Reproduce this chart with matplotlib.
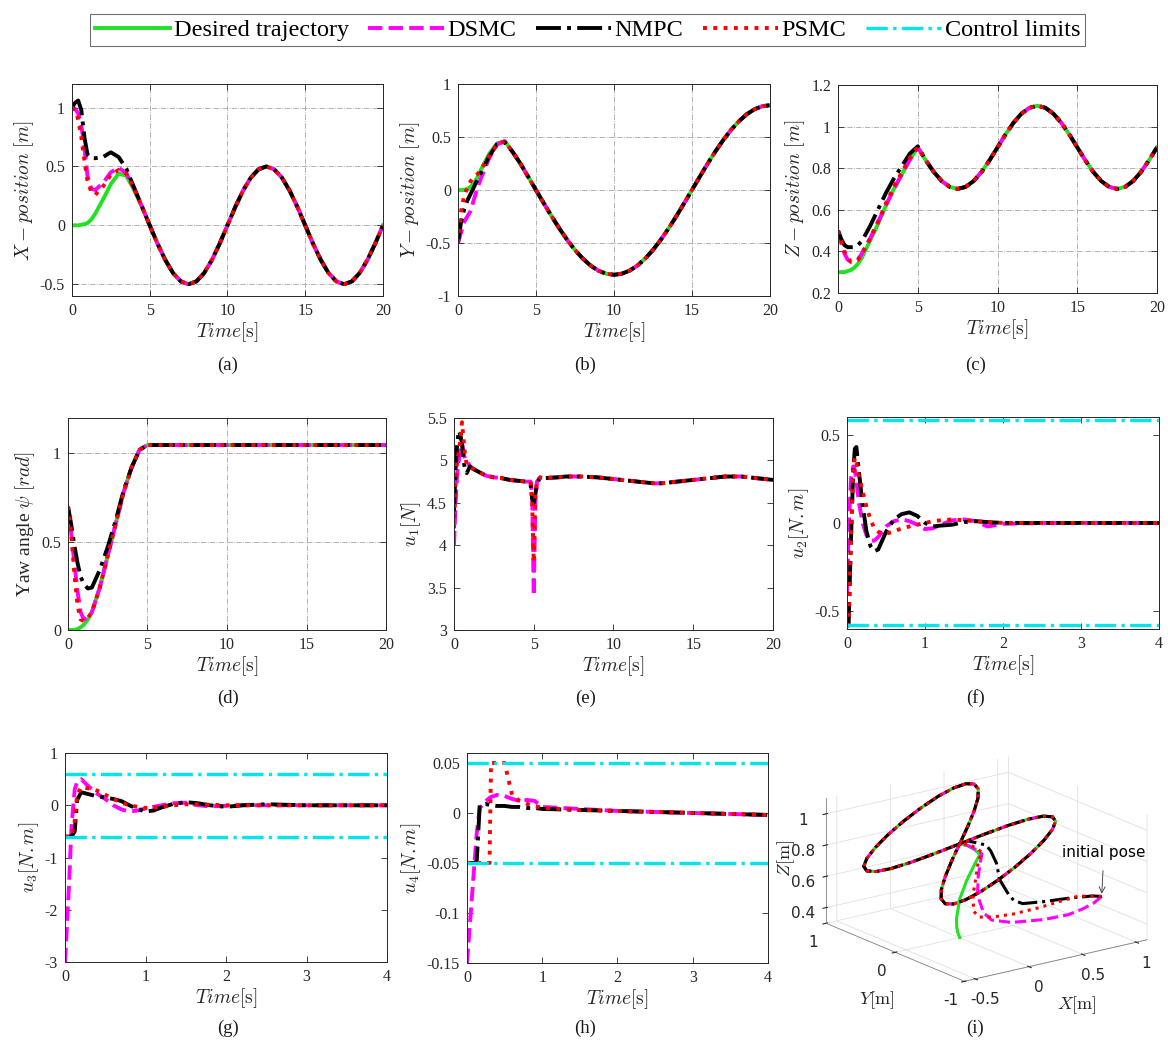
import numpy as np
import matplotlib
matplotlib.use('Agg')
import matplotlib.pyplot as plt
from matplotlib.lines import Line2D
from mpl_toolkits.mplot3d import proj3d

plt.rcParams['font.family'] = ['Liberation Serif', 'DejaVu Serif']
plt.rcParams['mathtext.fontset'] = 'cm'

# ---- position / yaw data (0..20 s) ----
t_pos = [0, 0.2, 0.4, 0.6, 0.8, 1.0, 1.25, 1.5, 2, 2.5, 3, 3.5, 4, 4.5, 5,
         5.5, 6, 6.5, 7, 7.5, 8, 8.5, 9, 9.5, 10, 10.5, 11, 11.5, 12, 12.5,
         13, 13.5, 14, 14.5, 15, 15.5, 16, 16.5, 17, 17.5, 18, 18.5, 19, 19.5, 20]

x_tail = [-0.155, -0.294, -0.405, -0.476, -0.5, -0.476, -0.405, -0.294, -0.155, 0,
          0.155, 0.294, 0.405, 0.476, 0.5, 0.476, 0.405, 0.294, 0.155, 0,
          -0.155, -0.294, -0.405, -0.476, -0.5, -0.476, -0.405, -0.294, -0.155, 0]
x_ref = [0, 0, 0, 0.005, 0.01, 0.02, 0.05, 0.1, 0.22, 0.35, 0.44, 0.42, 0.3, 0.155, 0] + x_tail
x_dsmc = [1.0, 0.99, 0.95, 0.85, 0.66, 0.42, 0.31, 0.30, 0.36, 0.45, 0.49, 0.44, 0.31, 0.16, 0] + x_tail
x_nmpc = [1.0, 1.04, 1.06, 0.98, 0.75, 0.6, 0.57, 0.57, 0.58, 0.62, 0.58, 0.48, 0.32, 0.16, 0] + x_tail
x_psmc = [1.0, 0.98, 0.9, 0.75, 0.55, 0.38, 0.28, 0.26, 0.33, 0.43, 0.47, 0.44, 0.31, 0.16, 0] + x_tail

y_tail = [-0.125, -0.247, -0.363, -0.470, -0.566, -0.647, -0.713, -0.761, -0.790, -0.8,
          -0.790, -0.761, -0.713, -0.647, -0.566, -0.470, -0.363, -0.247, -0.125, 0,
          0.125, 0.247, 0.363, 0.470, 0.566, 0.647, 0.713, 0.761, 0.790, 0.8]
y_ref = [0, 0, 0, 0.01, 0.03, 0.06, 0.12, 0.2, 0.34, 0.44, 0.46, 0.36, 0.25, 0.125, 0] + y_tail
y_dsmc = [-0.5, -0.4, -0.3, -0.25, -0.2, -0.1, 0.02, 0.12, 0.3, 0.43, 0.46, 0.36, 0.25, 0.125, 0] + y_tail
y_nmpc = [-0.5, -0.3, -0.18, -0.1, -0.04, 0.02, 0.1, 0.17, 0.32, 0.43, 0.45, 0.36, 0.25, 0.125, 0] + y_tail
y_psmc = [-0.5, -0.2, -0.05, 0.02, 0.08, 0.12, 0.15, 0.2, 0.32, 0.43, 0.46, 0.36, 0.25, 0.125, 0] + y_tail

z_tail = [0.838, 0.782, 0.738, 0.710, 0.7, 0.710, 0.738, 0.782, 0.838, 0.9,
          0.962, 1.018, 1.062, 1.090, 1.1, 1.090, 1.062, 1.018, 0.962, 0.9,
          0.838, 0.782, 0.738, 0.710, 0.7, 0.710, 0.738, 0.782, 0.838, 0.9]
z_ref = [0.3, 0.3, 0.3, 0.305, 0.31, 0.32, 0.34, 0.37, 0.45, 0.53, 0.62, 0.70, 0.77, 0.84, 0.9] + z_tail
z_dsmc = [0.5, 0.44, 0.39, 0.36, 0.35, 0.35, 0.36, 0.39, 0.46, 0.54, 0.62, 0.70, 0.77, 0.84, 0.9] + z_tail
z_nmpc = [0.5, 0.46, 0.43, 0.42, 0.42, 0.42, 0.43, 0.45, 0.52, 0.60, 0.68, 0.75, 0.81, 0.87, 0.905] + z_tail
z_psmc = [0.5, 0.45, 0.40, 0.37, 0.35, 0.35, 0.36, 0.39, 0.46, 0.54, 0.63, 0.71, 0.78, 0.85, 0.9] + z_tail

# 3D view also shows the path after 20 s (20.5..25 s), closing the upper-left loop
x_ext = [0.155, 0.294, 0.405, 0.476, 0.5, 0.476, 0.405, 0.294, 0.155, 0]
y_ext = [0.790, 0.761, 0.713, 0.647, 0.566, 0.470, 0.363, 0.247, 0.125, 0]
z_ext = [0.962, 1.018, 1.062, 1.090, 1.1, 1.090, 1.062, 1.018, 0.962, 0.9]

psi_tail = [1.047] * 30
psi_ref = [0, 0, 0, 0.005, 0.015, 0.03, 0.06, 0.1, 0.24, 0.42, 0.6, 0.78, 0.92, 1.02, 1.047] + psi_tail
psi_dsmc = [0.7, 0.55, 0.38, 0.22, 0.1, 0.06, 0.07, 0.1, 0.24, 0.42, 0.6, 0.78, 0.92, 1.02, 1.047] + psi_tail
psi_nmpc = [0.7, 0.6, 0.48, 0.38, 0.3, 0.26, 0.235, 0.24, 0.34, 0.47, 0.62, 0.79, 0.92, 1.02, 1.047] + psi_tail
psi_psmc = [0.7, 0.55, 0.32, 0.14, 0.06, 0.05, 0.07, 0.1, 0.24, 0.42, 0.6, 0.78, 0.92, 1.02, 1.047] + psi_tail

# ---- u1 (0..20 s) ----
t_u1 = [0, 0.1, 0.2, 0.3, 0.4, 0.5, 0.6, 0.7, 0.8, 1.0, 1.2, 1.5, 2, 2.5, 3, 3.5, 4, 4.5,
        4.8, 4.9, 5.0, 5.1, 5.2, 5.4,
        5.6, 6, 6.5, 7, 7.5, 8, 9, 10, 11, 12, 12.5, 13, 14, 15, 16, 17, 17.5, 18, 19, 20]
u1_tail = [4.79, 4.795, 4.8, 4.81, 4.81, 4.81, 4.8, 4.78, 4.76, 4.74, 4.73, 4.73, 4.75,
           4.77, 4.79, 4.81, 4.81, 4.81, 4.79, 4.77]
u1_dsmc = [4.0, 4.5, 4.85, 5.0, 5.15, 5.2, 5.1, 5.0, 5.0, 4.93, 4.9, 4.87, 4.82, 4.8, 4.79, 4.77, 4.76, 4.75,
           4.75, 4.6, 3.4, 4.5, 4.75, 4.8] + u1_tail
u1_nmpc = [4.4, 4.9, 5.2, 5.35, 5.3, 5.2, 5.0, 4.88, 4.85, 4.93, 4.9, 4.87, 4.82, 4.8, 4.79, 4.77, 4.76, 4.75,
           4.72, 4.55, 4.5, 4.6, 4.72, 4.8] + u1_tail
u1_psmc = [4.2, 4.75, 5.0, 5.1, 5.25, 5.45, 5.25, 5.05, 4.95, 4.92, 4.9, 4.87, 4.82, 4.8, 4.79, 4.77, 4.76, 4.75,
           4.75, 4.5, 3.8, 4.6, 4.76, 4.8] + u1_tail

# ---- u2 (0..4 s) ----
t_u2 = [0, 0.02, 0.05, 0.08, 0.1, 0.12, 0.15, 0.2, 0.25, 0.3, 0.35, 0.4, 0.45, 0.5, 0.6, 0.7,
        0.8, 0.9, 1.0, 1.1, 1.2, 1.35, 1.5, 1.65, 1.8, 2.0, 2.5, 3.0, 3.5, 4.0]
u2_dsmc = [-0.4, -0.05, 0.25, 0.32, 0.3, 0.24, 0.12, 0.0, -0.07, -0.1, -0.1, -0.08, -0.05, -0.02,
           0.01, 0.02, 0.01, -0.01, -0.035, -0.03, -0.01, 0.015, 0.02, 0.01, -0.02, -0.005, 0, 0, 0, 0]
u2_nmpc = [-0.58, -0.58, -0.1, 0.3, 0.42, 0.43, 0.3, 0.1, -0.05, -0.13, -0.16, -0.15, -0.1, -0.05,
           0.02, 0.05, 0.06, 0.04, 0.0, -0.02, -0.015, -0.01, 0.005, 0.01, 0.005, 0, 0, 0, 0, 0]
u2_psmc = [-0.58, -0.58, -0.1, 0.3, 0.37, 0.34, 0.27, 0.18, 0.09, 0.02, -0.03, -0.05, -0.06, -0.06,
           -0.05, -0.03, -0.02, -0.01, 0.0, 0.01, 0.015, 0.02, 0.015, 0.01, 0.005, 0, 0, 0, 0, 0]
u2_lim = 0.58

# ---- u3 (0..4 s) ----
t_u3 = [0, 0.05, 0.08, 0.12, 0.15, 0.2, 0.3, 0.4, 0.5, 0.6, 0.7, 0.8, 0.9, 1.0, 1.1, 1.2,
        1.35, 1.5, 1.65, 1.8, 2.0, 2.2, 2.5, 3.0, 3.5, 4.0]
u3_dsmc = [-3.0, -1.5, -0.4, 0.3, 0.45, 0.5, 0.35, 0.22, 0.12, 0.0, -0.08, -0.12, -0.1, -0.06,
           -0.03, 0.0, 0.04, 0.05, 0.0, -0.02, -0.01, 0, 0, 0, 0, 0]
u3_nmpc = [-0.6, -0.6, -0.6, -0.5, 0.1, 0.25, 0.21, 0.17, 0.15, 0.12, 0.08, 0.0, -0.07, -0.12,
           -0.1, -0.04, 0.03, 0.06, 0.04, 0.0, -0.03, 0.0, 0.02, 0, 0, 0]
u3_psmc = [-0.6, -0.6, -0.6, -0.3, 0.2, 0.35, 0.32, 0.28, 0.2, 0.12, 0.05, 0.0, -0.03, -0.05,
           -0.04, -0.03, 0.0, 0.02, 0.02, 0.01, 0, 0, 0, 0, 0, 0]
u3_lim = 0.6

# ---- u4 (0..4 s) ----
t_u4 = [0, 0.05, 0.1, 0.13, 0.17, 0.25, 0.3, 0.32, 0.4, 0.5, 0.6, 0.7, 0.8, 0.9, 1.0,
        1.5, 2.0, 2.5, 3.0, 3.5, 4.0]
u4_dsmc = [-0.15, -0.1, -0.05, -0.02, 0.005, 0.012, 0.015, 0.016, 0.018, 0.017, 0.014, 0.012,
           0.013, 0.012, 0.006, 0.004, 0.002, 0.001, 0.0, -0.001, -0.002]
u4_nmpc = [-0.05, -0.05, -0.05, -0.048, 0.008, 0.009, 0.008, 0.008, 0.007, 0.007, 0.006, 0.006,
           0.005, 0.005, 0.004, 0.003, 0.002, 0.001, 0.0, -0.001, -0.002]
u4_psmc = [-0.05, -0.05, -0.05, -0.05, -0.05, -0.05, -0.05, 0.05, 0.05, 0.05, 0.018, 0.012,
           0.009, 0.007, 0.005, 0.003, 0.002, 0.001, 0.0, -0.001, -0.002]
u4_lim = 0.05

# ---- styles ----
LW = 2.8
st_ref = dict(color='#22e022', ls='-', lw=LW)
st_dsmc = dict(color='#ff00ff', ls='--', lw=LW)
st_nmpc = dict(color='black', ls='-.', lw=LW)
st_psmc = dict(color='#ff0000', ls=':', lw=LW)
st_lim = dict(color='#00e5ee', ls='-.', lw=2.4)

fig = plt.figure(figsize=(11.68, 10.5), dpi=100)


def style_axes(ax, grid):
    ax.tick_params(direction='in', top=True, right=True, length=4, width=0.6,
                   colors='0.15', labelsize=11.5, pad=5)
    for s in ax.spines.values():
        s.set_linewidth(0.7)
        s.set_color('0.15')
    if grid:
        ax.grid(True, ls='-.', lw=0.6, color='0.65')
    ax.set_xlabel(r'$Time[\mathrm{s}]$', fontsize=14, labelpad=1, color='0.15')


def pos_plot(rect, t, ref, ds, nm, ps, ylab, ylim, yticks):
    ax = fig.add_axes(rect)
    ax.plot(t, ref, **st_ref)
    ax.plot(t, ds, **st_dsmc)
    ax.plot(t, nm, **st_nmpc)
    ax.plot(t, ps, **st_psmc)
    ax.set_xlim(0, 20)
    ax.set_xticks([0, 5, 10, 15, 20])
    ax.set_ylim(*ylim)
    ax.set_yticks(yticks)
    ax.set_yticklabels([('%g' % v) for v in yticks])
    ax.set_ylabel(ylab, fontsize=14, color='0.15', labelpad=3)
    style_axes(ax, True)
    return ax


pos_plot([0.0616, 0.7181, 0.2663, 0.2019], t_pos, x_ref, x_dsmc, x_nmpc, x_psmc,
         r'$X-position\ [m]$', (-0.6, 1.2), [-0.5, 0, 0.5, 1])
pos_plot([0.3921, 0.7181, 0.2671, 0.2019], t_pos, y_ref, y_dsmc, y_nmpc, y_psmc,
         r'$Y-position\ [m]$', (-1, 1), [-1, -0.5, 0, 0.5, 1])
pos_plot([0.7175, 0.7210, 0.2731, 0.1981], t_pos, z_ref, z_dsmc, z_nmpc, z_psmc,
         r'$Z-position\ [m]$', (0.2, 1.2), [0.2, 0.4, 0.6, 0.8, 1, 1.2])
pos_plot([0.0582, 0.4000, 0.2723, 0.2019], t_pos, psi_ref, psi_dsmc, psi_nmpc, psi_psmc,
         r'Yaw angle $\psi$ $[rad]$', (0, 1.2), [0, 0.5, 1])

# u1
ax = fig.add_axes([0.3887, 0.4, 0.2731, 0.2019])
ax.plot(t_u1, u1_dsmc, **st_dsmc)
ax.plot(t_u1, u1_nmpc, **st_nmpc)
ax.plot(t_u1, u1_psmc, **st_psmc)
ax.set_xlim(0, 20)
ax.set_xticks([0, 5, 10, 15, 20])
ax.set_ylim(3, 5.5)
ax.set_yticks([3, 3.5, 4, 4.5, 5, 5.5])
ax.set_yticklabels(['3', '3.5', '4', '4.5', '5', '5.5'])
ax.set_ylabel(r'$u_1[N]$', fontsize=14, color='0.15', labelpad=3)
style_axes(ax, False)


def ctrl_plot(rect, t, ds, nm, ps, lim, ylab, ylim, yticks):
    ax = fig.add_axes(rect)
    ax.plot(t, ds, **st_dsmc)
    ax.plot(t, nm, **st_nmpc)
    ax.plot(t, ps, **st_psmc)
    ax.axhline(lim, **st_lim)
    ax.axhline(-lim, **st_lim)
    ax.set_xlim(0, 4)
    ax.set_xticks([0, 1, 2, 3, 4])
    ax.set_ylim(*ylim)
    ax.set_yticks(yticks)
    ax.set_yticklabels([('%g' % v) for v in yticks])
    ax.set_ylabel(ylab, fontsize=14, color='0.15', labelpad=3)
    style_axes(ax, False)
    return ax


ctrl_plot([0.7252, 0.4010, 0.2671, 0.2019], t_u2, u2_dsmc, u2_nmpc, u2_psmc, u2_lim,
          r'$u_2[N.m]$', (-0.6, 0.6), [-0.5, 0, 0.5])
ctrl_plot([0.0557, 0.0838, 0.2757, 0.1990], t_u3, u3_dsmc, u3_nmpc, u3_psmc, u3_lim,
          r'$u_3[N.m]$', (-3, 1), [-3, -2, -1, 0, 1])
ctrl_plot([0.3998, 0.0829, 0.2577, 0.2000], t_u4, u4_dsmc, u4_nmpc, u4_psmc, u4_lim,
          r'$u_4[N.m]$', (-0.15, 0.06), [-0.15, -0.1, -0.05, 0, 0.05])

# ---- 3D trajectory ----
L3 = 2.2
XL, YL, ZL = (-0.6, 1.1), (-1, 1), (0.3, 1.1)
ASPECT = (1, 1.03, 0.58)
ax3 = fig.add_axes([0.674, 0.032, 0.34, 0.28], projection='3d')
ax3.set_proj_type('ortho')
for xs, ys, zs, st in [(x_ref, y_ref, z_ref, st_ref), (x_dsmc, y_dsmc, z_dsmc, st_dsmc),
                       (x_nmpc, y_nmpc, z_nmpc, st_nmpc), (x_psmc, y_psmc, z_psmc, st_psmc)]:
    ax3.plot(xs + x_ext, ys + y_ext, zs + z_ext, **dict(st, lw=L3))
ax3.set_xlim(*XL)
ax3.set_ylim(*YL)
ax3.set_zlim(*ZL)
ax3.set_xticks([-0.5, 0, 0.5, 1])
ax3.set_yticks([-1, 0, 1])
ax3.set_zticks([0.4, 0.6, 0.8, 1])
ax3.set_xticklabels(['-0.5', '0', '0.5', '1'], fontfamily='DejaVu Sans', fontsize=11)
ax3.set_yticklabels(['-1', '0', '1'], fontfamily='DejaVu Sans', fontsize=11)
ax3.set_zticklabels(['0.4', '0.6', '0.8', '1'], fontfamily='DejaVu Sans', fontsize=11)
ax3.view_init(elev=18, azim=-126.4)
ax3.set_box_aspect(ASPECT)
for a in (ax3.xaxis, ax3.yaxis, ax3.zaxis):
    a.set_pane_color((1, 1, 1, 0))
    a._axinfo['grid']['color'] = (0.88, 0.88, 0.88, 1)
    a._axinfo['grid']['linewidth'] = 0.6
    a.line.set_color('0.5')
    a.line.set_linewidth(0.6)
ax3.tick_params(pad=0, colors='0.15')


def box_px():
    M = ax3.get_proj()
    pts = []
    for xc in XL:
        for yc in YL:
            for zc in ZL:
                px, py, _ = proj3d.proj_transform(xc, yc, zc, M)
                pts.append((px, py))
    return ax3.transData.transform(np.array(pts))


# scale / place the box like the reference (floor 826..1147 px, centre ~ (986, 869))
fig.canvas.draw()
d = box_px()
ax3.set_box_aspect(ASPECT, zoom=321.0 / (d[:, 0].max() - d[:, 0].min()))
fig.canvas.draw()
d = box_px()
cx = (d[:, 0].max() + d[:, 0].min()) / 2
cy = (d[:, 1].max() + d[:, 1].min()) / 2
p = ax3.get_position()
ax3.set_position([p.x0 + (986.5 - cx) / 1168, p.y0 + ((1050 - 869) - cy) / 1050, p.width, p.height])
fig.canvas.draw()
px, py, _ = proj3d.proj_transform(x_nmpc[0], y_nmpc[0], z_nmpc[0], ax3.get_proj())
ax3.annotate('initial pose', xy=(px, py), xycoords='data',
             xytext=(1104, 1050 - 852), textcoords='figure pixels',
             fontsize=11, fontfamily='DejaVu Sans', ha='center', va='center',
             arrowprops=dict(arrowstyle='->', color='0.2', lw=0.6, shrinkA=6, shrinkB=2))
fig.text(877 / 1168, 1 - 1000 / 1050, r'$Y[\mathrm{m}]$', fontsize=13, ha='center', va='center', color='0.15')
fig.text(1077 / 1168, 1 - 1005 / 1050, r'$X[\mathrm{m}]$', fontsize=13, ha='center', va='center', color='0.15')
fig.text(786 / 1168, 1 - 858 / 1050, r'$Z[\mathrm{m}]$', fontsize=13, ha='center', va='center',
         rotation=90, color='0.15')

# ---- legend ----
handles = [Line2D([], [], **st_ref), Line2D([], [], **st_dsmc), Line2D([], [], **st_nmpc),
           Line2D([], [], **st_psmc), Line2D([], [], **st_lim)]
labels = ['Desired trajectory', 'DSMC', 'NMPC', 'PSMC', 'Control limits']
leg = fig.legend(handles, labels, loc='upper center', bbox_to_anchor=(0.503, 0.998), ncol=5,
                 fontsize=17.5, handlelength=3.1, handletextpad=0.15, columnspacing=0.8,
                 borderpad=0.2, frameon=True, fancybox=False, edgecolor='0.3')
leg.get_frame().set_linewidth(0.8)

# ---- captions ----
for lab, cx, cy in [('(a)', 0.195, 0.6524), ('(b)', 0.501, 0.6524), ('(c)', 0.835, 0.6524),
                    ('(d)', 0.195, 0.3352), ('(e)', 0.501, 0.3352), ('(f)', 0.835, 0.3352),
                    ('(g)', 0.195, 0.021), ('(h)', 0.501, 0.021), ('(i)', 0.835, 0.021)]:
    fig.text(cx, cy, lab, ha='center', va='center', fontsize=13.5, color='0.1')

fig.savefig('out.png', dpi=100)
